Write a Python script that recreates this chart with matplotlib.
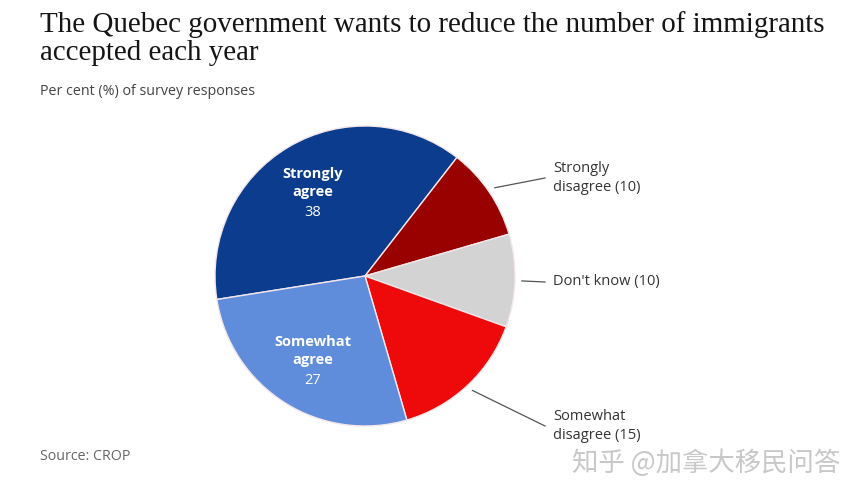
import numpy as np
import matplotlib
matplotlib.use("Agg")
import matplotlib.pyplot as plt

labels = ["Strongly agree", "Strongly disagree", "Don't know", "Somewhat disagree", "Somewhat agree"]
values = [38, 10, 10, 15, 27]
colors = ["#0b3c8d", "#990000", "#d3d3d3", "#ee0a0a", "#5f8ddb"]
inside_labels = {0: "Strongly\nagree", 4: "Somewhat\nagree"}
outside_labels = {1: "Strongly\ndisagree (10)", 2: "Don't know (10)", 3: "Somewhat\ndisagree (15)"}
title_lines = ["The Quebec government wants to reduce the number of immigrants", "accepted each year"]

W, H = 862, 500
fig = plt.figure(figsize=(W / 100, H / 100), dpi=100)
fig.patch.set_facecolor("white")
ax = fig.add_axes([0, 0, 1, 1])

cx, cy, R = 365, H - 276, 150
wedges, _ = ax.pie(values, colors=colors, startangle=189, counterclock=False,
                   center=(cx, cy), radius=R,
                   wedgeprops=dict(edgecolor="#f4e6ea", linewidth=1.0))
ax.set_xlim(0, W)
ax.set_ylim(0, H)
ax.set_aspect("auto")
ax.axis("off")

sans = ["Open Sans", "DejaVu Sans"]

# inside labels
inside_pos = {0: (313, H - 193), 4: (313, H - 361)}
for i, txt in inside_labels.items():
    x, y = inside_pos[i]
    ax.text(x, y + 10, txt, ha="center", va="center", color="white",
            fontsize=10.5, fontweight="bold", family=sans, linespacing=1.45)
    ax.text(x, y - 20, str(values[i]), ha="center", va="center", color="white",
            fontsize=10.5, family=sans)

# outside labels with leader lines
label_y = {1: H - 178, 2: H - 282, 3: H - 426}
for i, txt in outside_labels.items():
    w = wedges[i]
    mid = np.deg2rad((w.theta1 + w.theta2) / 2)
    x0 = cx + 157 * np.cos(mid)
    y0 = cy + 157 * np.sin(mid)
    ax.plot([x0, 545], [y0, label_y[i]], color="#555555", linewidth=0.9)
    ax.text(553, label_y[i], txt, ha="left", va="center", color="#333333",
            fontsize=10.5, family=sans, linespacing=1.45)

# titles
serif = ["Liberation Serif", "DejaVu Serif"]
for k, (line, base) in enumerate(zip(title_lines, [32, 60])):
    fig.text(40 / W, 1 - base / H, line, ha="left", va="baseline",
             fontsize=20.9, family=serif, color="#151515")
fig.text(40 / W, 1 - 92 / H, "Per cent (%) of survey responses", ha="left", va="center",
         fontsize=10.3, family=sans, color="#444444")
fig.text(40 / W, 1 - 457 / H, "Source: CROP", ha="left", va="center",
         fontsize=10.3, family=sans, color="#666666")
fig.text(840 / W, 1 - 463 / H, "知乎 @加拿大移民问答", ha="right", va="center",
         fontsize=19, family=["Noto Sans CJK SC", "DejaVu Sans"], color="#c8c8c8")

fig.savefig("out.png", dpi=100, facecolor="white")
